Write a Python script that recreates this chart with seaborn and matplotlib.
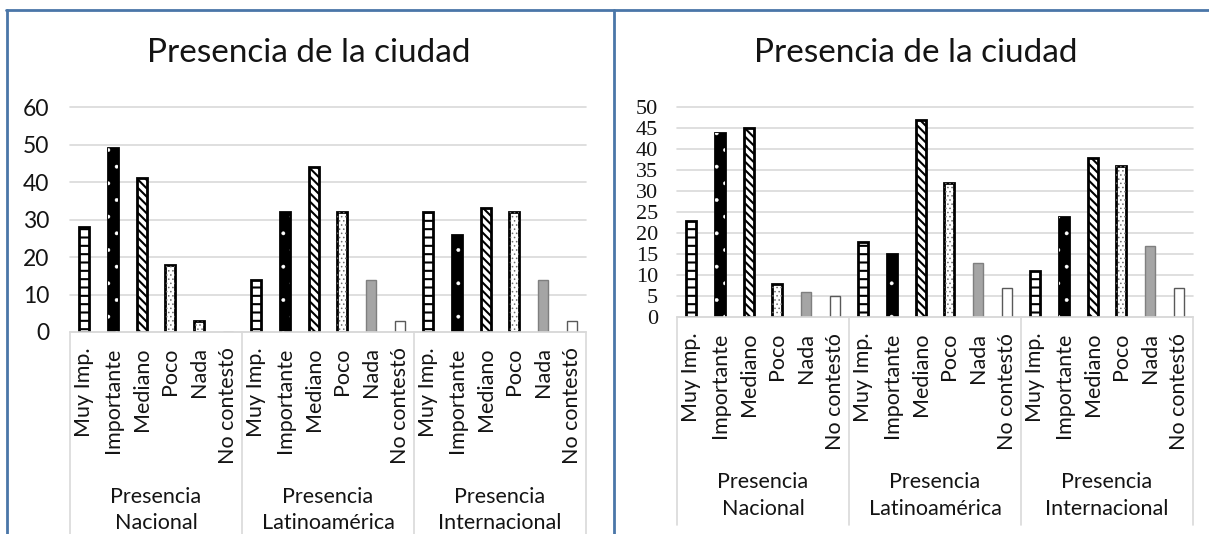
import matplotlib
matplotlib.use("Agg")
import matplotlib.pyplot as plt
import matplotlib.transforms as mtransforms
from matplotlib.lines import Line2D
from matplotlib.patches import Rectangle
import seaborn as sns
import pandas as pd

# ---- data -----------------------------------------------------------------
grupos = ["Nacional", "Latinoamérica", "Internacional"]
categorias = ["Muy Imp.", "Importante", "Mediano", "Poco", "Nada", "No contestó"]

# left chart
izq_nacional = [28, 49, 41, 18, 3, 0]
izq_latam = [14, 32, 44, 32, 14, 3]
izq_internacional = [32, 26, 33, 32, 14, 3]

# right chart
der_nacional = [23, 44, 45, 8, 6, 5]
der_latam = [18, 15, 47, 32, 13, 7]
der_internacional = [11, 24, 38, 36, 17, 7]

titulo = "Presencia de la ciudad"
ticks_izq = [0, 10, 20, 30, 40, 50, 60]
ticks_der = [0, 5, 10, 15, 20, 25, 30, 35, 40, 45, 50]

# ---- styles ---------------------------------------------------------------
# "over": optional hatch layer (pattern, colour, line width) drawn on top
estilos = {
    "cuadros": dict(face="white", edge="black", lw=2.0, hatch="--"),
    "puntos": dict(face="black", edge="black", lw=2.0, hatch="",
                   over=(".", "white", 0.3)),
    "diagonal": dict(face="white", edge="black", lw=2.0, hatch="\\\\\\\\"),
    "punteado": dict(face="white", edge="black", lw=2.0, hatch="",
                     over=("....", "#6e6e6e", 0.6)),
    "gris": dict(face="#a5a5a5", edge="#7f7f7f", lw=1.0, hatch=""),
    "blanco": dict(face="white", edge="#595959", lw=1.0, hatch=""),
}
estilo_cat = ["cuadros", "puntos", "diagonal", "punteado", "gris", "blanco"]
estilo_izq = estilo_cat[:4] + ["punteado", "blanco"] + estilo_cat * 2
estilo_der = estilo_cat * 3

sns.set_style("white")
plt.rcParams["font.family"] = ["Lato", "DejaVu Sans"]
plt.rcParams["hatch.linewidth"] = 1.5

TXT = "#141414"
GRID = "#d9d9d9"
MARCO = "#4a76a8"
FS_CAT = 15.5
FS_GRP = 15.5

fig = plt.figure(figsize=(12.09, 5.34), dpi=100)
W, H = 1209, 534


def px_axes(x0, x1, y_top, y_bot):
    return fig.add_axes([x0 / W, 1 - y_bot / H, (x1 - x0) / W, (y_bot - y_top) / H])


def panel(ax, series, estilos_barras, yticks, ytick_font, ypad, lab_y, sep_bottom):
    valores = [v for s in series for v in s]
    claves = [f"{g}|{c}" for g in grupos for c in categorias]
    df = pd.DataFrame({"clave": claves, "valor": valores})
    sns.barplot(data=df, x="clave", y="valor", order=claves, ax=ax,
                width=0.34, color="white", saturation=1, errorbar=None)
    for patch, nombre in list(zip(ax.patches, estilos_barras)):
        st = estilos[nombre]
        patch.set_facecolor(st["face"])
        patch.set_edgecolor(st["edge"])
        patch.set_linewidth(st["lw"])
        patch.set_hatch(st["hatch"])
        if "over" in st and patch.get_height() > 0:
            h, col, hlw = st["over"]
            with plt.rc_context({"hatch.linewidth": hlw}):
                capa = Rectangle(patch.get_xy(), patch.get_width(),
                                 patch.get_height(), facecolor="none",
                                 edgecolor=col, lw=0, hatch=h,
                                 zorder=patch.get_zorder() + 0.1)
            ax.add_patch(capa)

    ax.set_xlim(-0.5, len(claves) - 0.5)
    ax.set_ylim(0, yticks[-1])
    ax.set_yticks(yticks)
    ax.set_yticklabels([str(t) for t in yticks], **ytick_font)
    ax.tick_params(axis="y", length=0, pad=ypad, colors=TXT)
    ax.yaxis.grid(True, color=GRID, lw=1.2, clip_on=False)
    ax.set_axisbelow(True)
    for sp in ax.spines.values():
        sp.set_visible(False)
    ax.set_xlabel("")
    ax.set_ylabel("")

    ax.set_xticks(range(len(claves)))
    ax.set_xticklabels(categorias * len(grupos), rotation=90, fontsize=FS_CAT,
                       color=TXT, va="top")
    ax.tick_params(axis="x", length=0, pad=11)

    # category axis frame
    bt = mtransforms.blended_transform_factory(ax.transData, ax.transAxes)
    ax.add_line(Line2D([-0.5, len(claves) - 0.5], [0, 0], transform=bt,
                       color=GRID, lw=1.2, clip_on=False))
    for k in range(len(grupos) + 1):
        xb = k * len(categorias) - 0.5
        ax.add_line(Line2D([xb, xb], [0, sep_bottom], transform=bt,
                           color=GRID, lw=1.2, clip_on=False))
    for k, g in enumerate(grupos):
        xc = k * len(categorias) + (len(categorias) - 1) / 2
        ax.text(xc, lab_y[0], "Presencia", transform=bt, ha="center",
                va="center", fontsize=FS_GRP, color=TXT)
        ax.text(xc, lab_y[1], g, transform=bt, ha="center",
                va="center", fontsize=FS_GRP, color=TXT)


# left chart
ax1 = px_axes(70, 586, 107.3, 332)
panel(ax1, [izq_nacional, izq_latam, izq_internacional], estilo_izq,
      ticks_izq, dict(fontsize=16.5, family=["Lato"]), 15,
      ((332 - 497) / 224.7, (332 - 523) / 224.7), -1.0)
fig.text(309 / W, 1 - 53 / H, titulo, ha="center", va="center",
         fontsize=24, color=TXT)

# right chart
ax2 = px_axes(677, 1193, 107.3, 317.4)
panel(ax2, [der_nacional, der_latam, der_internacional], estilo_der,
      ticks_der, dict(fontsize=16, family=["Liberation Serif"]), 13.5,
      ((317.4 - 482) / 210.1, (317.4 - 509) / 210.1), (317.4 - 524.5) / 210.1)
fig.text(916 / W, 1 - 53 / H, titulo, ha="center", va="center",
         fontsize=24, color=TXT)

# outer frame lines
for (x0, y0, x1, y1) in [(6, 10, W, 10), (7, 10, 7, H), (614, 10, 614, H)]:
    fig.add_artist(Line2D([x0 / W, x1 / W], [1 - y0 / H, 1 - y1 / H],
                          transform=fig.transFigure, color=MARCO, lw=2.0))

fig.savefig("out.png", dpi=100, facecolor="white")
